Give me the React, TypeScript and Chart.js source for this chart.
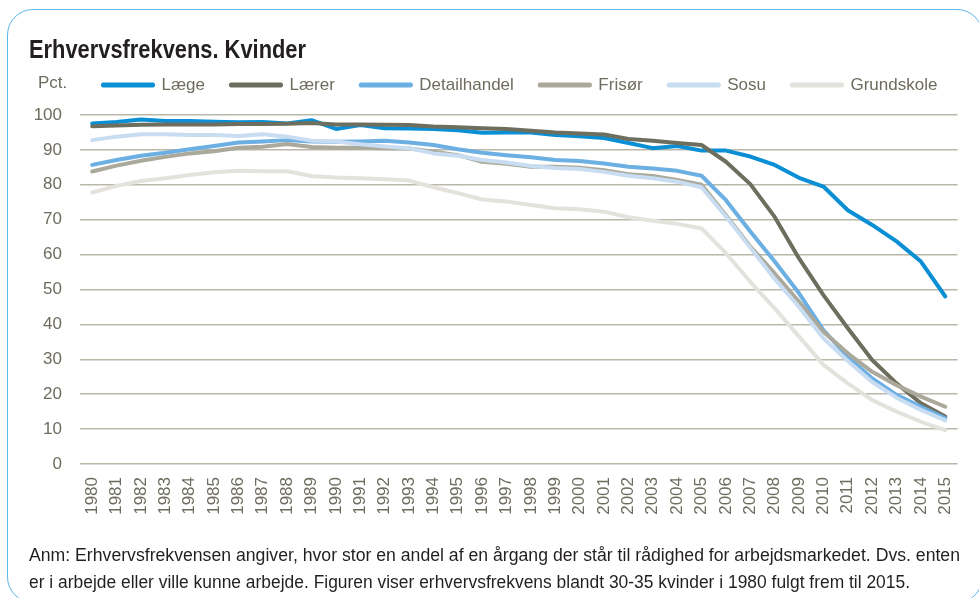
import React, { useEffect, useLayoutEffect, useRef } from "react";
import { Chart, registerables } from "chart.js";

Chart.register(...registerables);

const years = [
  "1980", "1981", "1982", "1983", "1984", "1985", "1986", "1987", "1988", "1989",
  "1990", "1991", "1992", "1993", "1994", "1995", "1996", "1997", "1998", "1999",
  "2000", "2001", "2002", "2003", "2004", "2005", "2006", "2007", "2008", "2009",
  "2010", "2011", "2012", "2013", "2014", "2015",
];

const laege = [
  97.6, 98.0, 98.7, 98.3, 98.3, 98.1, 97.9, 98.0, 97.6, 98.5,
  96.0, 97.1, 96.2, 96.1, 96.0, 95.6, 94.9, 95.0, 95.0, 94.3,
  93.9, 93.4, 92.0, 90.5, 91.1, 89.8, 89.8, 88.1, 85.7, 82.0,
  79.5, 72.7, 68.5, 63.8, 58.0, 48.0,
];

const laerer = [
  96.8, 97.0, 97.2, 97.3, 97.3, 97.3, 97.4, 97.4, 97.5, 97.7,
  97.3, 97.3, 97.2, 97.1, 96.7, 96.5, 96.2, 96.0, 95.5, 95.0,
  94.7, 94.4, 93.1, 92.6, 92.0, 91.4, 86.6, 80.2, 70.8, 58.9,
  48.4, 38.9, 29.8, 23.1, 17.4, 13.6,
];

const detailhandel = [
  85.7, 87.1, 88.3, 89.2, 90.2, 91.1, 92.1, 92.4, 92.8, 92.4,
  92.3, 92.4, 92.6, 92.1, 91.4, 90.2, 89.2, 88.5, 87.9, 87.1,
  86.8, 86.1, 85.2, 84.7, 84.0, 82.6, 75.6, 66.6, 58.0, 48.9,
  38.4, 30.7, 24.5, 19.8, 16.4, 13.1,
];

const frisoer = [
  83.8, 85.5, 86.9, 88.0, 89.0, 89.6, 90.6, 90.9, 91.7, 90.8,
  90.6, 90.6, 90.5, 90.4, 89.5, 88.5, 86.6, 86.0, 85.2, 85.2,
  84.9, 84.2, 83.0, 82.5, 81.4, 80.0, 71.3, 62.3, 54.6, 46.5,
  37.9, 31.7, 26.4, 22.6, 19.3, 16.4,
];

const sosu = [
  92.8, 93.8, 94.5, 94.5, 94.3, 94.3, 94.0, 94.5, 93.8, 92.6,
  92.4, 91.6, 91.0, 90.5, 89.0, 88.3, 87.1, 86.4, 85.4, 84.8,
  84.5, 83.7, 82.6, 81.9, 80.9, 79.3, 70.9, 62.0, 53.0, 45.0,
  36.0, 29.5, 23.5, 19.0, 15.5, 12.5,
];

const grundskole = [
  77.8, 79.7, 81.1, 81.9, 82.8, 83.6, 84.0, 83.9, 83.9, 82.5,
  82.1, 81.9, 81.6, 81.2, 79.3, 77.6, 75.8, 75.2, 74.2, 73.3,
  73.0, 72.3, 70.7, 69.7, 68.8, 67.5, 60.4, 52.2, 44.6, 36.5,
  28.4, 23.1, 18.3, 15.0, 12.1, 9.7,
];

const seriesNames = ["Læge", "Lærer", "Detailhandel", "Frisør", "Sosu", "Grundskole"];
const seriesColors = ["#0a8fd5", "#6e6e5f", "#6cafe3", "#aaa99b", "#c8dcf2", "#e3e2dc"];

const yMin = 0;
const yMax = 100;
const yStep = 10;

const titleText = "Erhvervsfrekvens. Kvinder";
const unitText = "Pct.";
const noteLines = [
  "Anm: Erhvervsfrekvensen angiver, hvor stor en andel af en årgang der står til rådighed for arbejdsmarkedet. Dvs. enten",
  "er i arbejde eller ville kunne arbejde. Figuren viser erhvervsfrekvens blandt 30-35 kvinder i 1980 fulgt frem til 2015.",
];

const FONT = "'Liberation Sans', Arial, sans-serif";
const AXIS_TEXT = "#6e6c5e";
const GRID = "#b9b7aa";

// Shifts the (left aligned) legend so that it starts right of the "Pct." label.
const LEGEND_LEFT = 77;
const legendIndent = {
  id: "legendIndent",
  afterLayout(chart: any) {
    const lg = chart.legend;
    if (!lg) return;
    const shift = LEGEND_LEFT - lg.left;
    lg.left += shift;
    lg.right += shift;
  },
};

function FitText(props: { text: string; width: number; style: React.CSSProperties }) {
  const ref = useRef<HTMLSpanElement | null>(null);
  useLayoutEffect(() => {
    const el = ref.current;
    if (!el) return;
    el.style.transform = "none";
    const w = el.getBoundingClientRect().width;
    if (w > 0) el.style.transform = `scaleX(${props.width / w})`;
  });
  return (
    <span
      ref={ref}
      style={{ ...props.style, display: "inline-block", whiteSpace: "nowrap", transformOrigin: "0 0" }}
    >
      {props.text}
    </span>
  );
}

export default function App() {
  const canvasRef = useRef<HTMLCanvasElement | null>(null);

  useEffect(() => {
    const canvas = canvasRef.current;
    if (!canvas) return;
    const seriesValues = [laege, laerer, detailhandel, frisoer, sosu, grundskole];
    const chart = new Chart(canvas, {
      type: "line",
      data: {
        labels: years,
        datasets: seriesNames.map((name, i) => ({
          label: name,
          data: seriesValues[i],
          borderColor: seriesColors[i],
          backgroundColor: seriesColors[i],
          borderWidth: 4,
          pointRadius: 0,
          pointHoverRadius: 0,
          borderJoinStyle: "round" as const,
          borderCapStyle: "round" as const,
          tension: 0,
          fill: false,
          order: seriesNames.length - i,
        })),
      },
      options: {
        animation: false,
        responsive: false,
        maintainAspectRatio: false,
        events: [],
        layout: { padding: { left: 30, right: 21, top: 50.5, bottom: 0 } },
        plugins: {
          legend: {
            position: "top",
            align: "start",
            labels: {
              boxWidth: 50,
              boxHeight: 1,
              padding: 26,
              color: AXIS_TEXT,
              font: { family: FONT, size: 17 },
              sort: (a: any, b: any) => a.datasetIndex - b.datasetIndex,
            },
          },
          subtitle: {
            display: true,
            text: "",
            position: "top",
            weight: 500,
            padding: { top: 0, bottom: 1.5 },
            font: { size: 8, lineHeight: 1.25 },
          },
          tooltip: { enabled: false },
        },
        scales: {
          x: {
            offset: true,
            grid: { display: false, drawTicks: false },
            border: { display: false },
            ticks: {
              autoSkip: false,
              minRotation: 90,
              maxRotation: 90,
              padding: 13,
              color: AXIS_TEXT,
              font: { family: FONT, size: 17 },
            },
            afterFit: (scale: any) => {
              scale.height = 134;
            },
          },
          y: {
            min: yMin,
            max: yMax,
            ticks: {
              stepSize: yStep,
              padding: 18,
              color: AXIS_TEXT,
              font: { family: FONT, size: 17 },
            },
            grid: { color: GRID, lineWidth: 1.5, drawTicks: false },
            border: { display: false },
            afterFit: (scale: any) => {
              scale.width = 50;
            },
          },
        },
      },
      plugins: [legendIndent],
    });
    return () => chart.destroy();
  }, []);

  return (
    <div
      style={{
        position: "absolute",
        left: 0,
        top: 0,
        width: 979,
        height: 598,
        overflow: "hidden",
        background: "#ffffff",
      }}
    >
      <div
        style={{
          position: "absolute",
          left: 7,
          top: 9,
          width: 976,
          height: 594,
          border: "1.5px solid #5db6e8",
          borderRadius: 26,
          boxSizing: "border-box",
        }}
      />
      <canvas
        ref={canvasRef}
        width={979}
        height={598}
        style={{ position: "absolute", left: 0, top: 0, width: 979, height: 598, display: "block" }}
      />
      <div style={{ position: "absolute", left: 29, top: 36 }}>
        <FitText
          text={titleText}
          width={277}
          style={{
            fontFamily: FONT,
            fontWeight: "bold",
            fontSize: 26,
            lineHeight: "26px",
            color: "#231f20",
          }}
        />
      </div>
      <div
        style={{
          position: "absolute",
          left: 38,
          top: 74,
          fontFamily: FONT,
          fontSize: 17,
          lineHeight: "17px",
          color: AXIS_TEXT,
          whiteSpace: "nowrap",
        }}
      >
        {unitText}
      </div>
      <div style={{ position: "absolute", left: 29, top: 542 }}>
        {noteLines.map((l, i) => (
          <div key={i} style={{ height: 26.5 }}>
            <FitText
              text={l}
              width={i === 0 ? 931 : 881}
              style={{
                fontFamily: FONT,
                fontSize: 18.7,
                lineHeight: "26.5px",
                color: "#231f20",
              }}
            />
          </div>
        ))}
      </div>
    </div>
  );
}
